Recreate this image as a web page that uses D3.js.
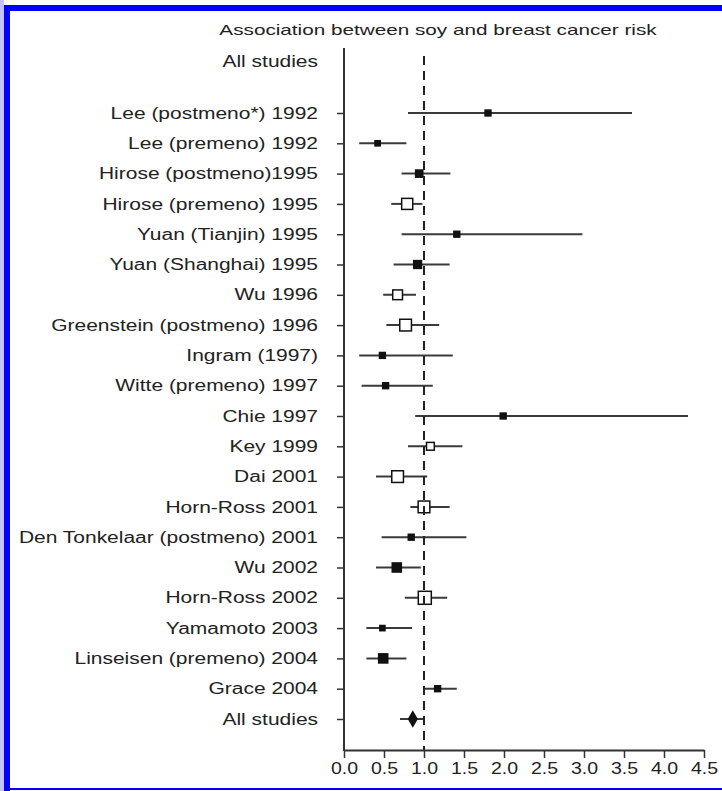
<!DOCTYPE html>
<html>
<head>
<meta charset="utf-8">
<script src="https://cdn.jsdelivr.net/npm/d3@7"></script>
<style>
  body { margin: 0; background: #fff; }
  svg { display: block; }
  text { font-family: "Liberation Sans", Arial, sans-serif; fill: #222; }
</style>
</head>
<body>
<div id="chart"></div>
<script>
// values
const studies = [
  "Lee (postmeno*) 1992", "Lee (premeno) 1992", "Hirose (postmeno)1995", "Hirose (premeno) 1995",
  "Yuan (Tianjin) 1995", "Yuan (Shanghai) 1995", "Wu 1996", "Greenstein (postmeno) 1996",
  "Ingram (1997)", "Witte (premeno) 1997", "Chie 1997", "Key 1999", "Dai 2001", "Horn-Ross 2001",
  "Den Tonkelaar (postmeno) 2001", "Wu 2002", "Horn-Ross 2002", "Yamamoto 2003",
  "Linseisen (premeno) 2004", "Grace 2004", "All studies"
];
const oddsRatio = [1.80, 0.42, 0.94, 0.79, 1.41, 0.92, 0.67, 0.77, 0.48, 0.52, 1.99, 1.08, 0.67, 1.00, 0.84, 0.66, 1.01, 0.48, 0.49, 1.17, 0.86];
const ciLow     = [0.80, 0.19, 0.72, 0.59, 0.72, 0.62, 0.49, 0.53, 0.19, 0.22, 0.89, 0.80, 0.40, 0.83, 0.47, 0.40, 0.76, 0.28, 0.28, 1.00, 0.70];
const ciHigh    = [3.60, 0.78, 1.33, 0.98, 2.98, 1.32, 0.90, 1.19, 1.36, 1.11, 4.30, 1.48, 1.04, 1.32, 1.53, 0.96, 1.29, 0.85, 0.78, 1.41, 1.01];
const markerType = ["filled", "filled", "filled", "open", "filled", "filled", "open", "open", "filled", "filled",
  "filled", "open", "open", "open", "filled", "filled", "open", "filled", "filled", "filled", "diamond"];
const studyWeight = [4.5, 4, 5.5, 8.5, 4.5, 6, 7.5, 9, 4.5, 4.5, 4.5, 6, 9, 9, 4.5, 7, 10, 4, 7, 4.5, 8];
const xTicks = [0, 0.5, 1, 1.5, 2, 2.5, 3, 3.5, 4, 4.5];
const titleText = "Association between soy and breast cancer risk";
const headerText = "All studies";

const width = 722, height = 791;
const stretch = 1.31;   // the source lettering is drawn wide

const svg = d3.select("#chart").append("svg")
  .attr("width", width)
  .attr("height", height);

// blue frame of the source image
svg.append("rect").attr("x", 0).attr("y", 0).attr("width", 4).attr("height", height).attr("fill", "#c4c4f4");
svg.append("rect").attr("x", 4).attr("y", 5).attr("width", 6).attr("height", height - 5).attr("fill", "#0000ff");
svg.append("rect").attr("x", 4).attr("y", 5).attr("width", width - 4).attr("height", 6).attr("fill", "#0000ff");
svg.append("rect").attr("x", 4).attr("y", 788).attr("width", width - 4).attr("height", 2).attr("fill", "#0000ff");

const x = d3.scaleLinear().domain([0, 4.5]).range([344, 704]);
const y = d3.scalePoint().domain(studies).range([113, 719]);
const boxSize = d3.scaleLinear().domain([0, 10]).range([0, 13]);

function widen(sel, k) {
  sel.each(function() {
    const len = this.getComputedTextLength();
    d3.select(this).attr("textLength", len * k).attr("lengthAdjust", "spacingAndGlyphs");
  });
}

// title and header
svg.append("text")
  .attr("x", 438).attr("y", 35)
  .attr("text-anchor", "middle")
  .style("font-size", "15px")
  .text(titleText)
  .call(widen, 1.38);

svg.append("text")
  .attr("x", 318).attr("y", 67)
  .attr("text-anchor", "end")
  .style("font-size", "16px")
  .text(headerText)
  .call(widen, stretch);

// y axis with study labels
const yAxis = svg.append("g")
  .attr("transform", "translate(344,0)")
  .call(d3.axisLeft(y).tickSize(7).tickPadding(19).tickSizeOuter(0));
yAxis.select(".domain").remove();
yAxis.selectAll(".tick line").attr("stroke", "#333").attr("stroke-width", 1.5);
yAxis.selectAll(".tick text")
  .style("font-size", "16px")
  .style("font-family", "'Liberation Sans', Arial, sans-serif")
  .attr("fill", "#222")
  .call(widen, stretch);
svg.append("line")
  .attr("x1", 344).attr("x2", 344)
  .attr("y1", 48).attr("y2", 751)
  .attr("stroke", "#333").attr("stroke-width", 2);

// x axis
const xAxis = svg.append("g")
  .attr("transform", "translate(0,750)")
  .call(d3.axisBottom(x).tickValues(xTicks).tickFormat(d3.format(".1f")).tickSize(8).tickSizeOuter(0).tickPadding(5));
xAxis.select(".domain").attr("stroke", "#333").attr("stroke-width", 2);
xAxis.selectAll(".tick line").attr("stroke", "#333").attr("stroke-width", 1.5);
xAxis.selectAll(".tick text")
  .style("font-size", "16px")
  .style("font-family", "'Liberation Sans', Arial, sans-serif")
  .attr("fill", "#222")
  .call(widen, 1.22);

// confidence intervals
const rows = studies.map((s, i) => ({
  name: s, or: oddsRatio[i], lo: ciLow[i], hi: ciHigh[i], type: markerType[i], w: studyWeight[i]
}));

svg.append("g").selectAll("line")
  .data(rows)
  .join("line")
  .attr("x1", d => x(d.lo)).attr("x2", d => x(d.hi))
  .attr("y1", d => y(d.name)).attr("y2", d => y(d.name))
  .attr("stroke", "#3a3a3a").attr("stroke-width", 2);

// point estimates
const marks = svg.append("g");
marks.selectAll("rect")
  .data(rows.filter(d => d.type !== "diamond"))
  .join("rect")
  .attr("x", d => x(d.or) - boxSize(d.w) / 2)
  .attr("y", d => y(d.name) - boxSize(d.w) / 2)
  .attr("width", d => boxSize(d.w))
  .attr("height", d => boxSize(d.w))
  .attr("fill", d => d.type === "open" ? "#fff" : "#111")
  .attr("stroke", "#111")
  .attr("stroke-width", 1.5);

marks.selectAll("path")
  .data(rows.filter(d => d.type === "diamond"))
  .join("path")
  .attr("transform", d => `translate(${x(d.or)},${y(d.name)})`)
  .attr("d", d3.symbol(d3.symbolDiamond, 90))
  .attr("fill", "#111");

// reference line at OR = 1
svg.append("line")
  .attr("x1", x(1)).attr("x2", x(1))
  .attr("y1", 56).attr("y2", 750)
  .attr("stroke", "#222")
  .attr("stroke-width", 2)
  .attr("stroke-dasharray", "9,6");
</script>
</body>
</html>
